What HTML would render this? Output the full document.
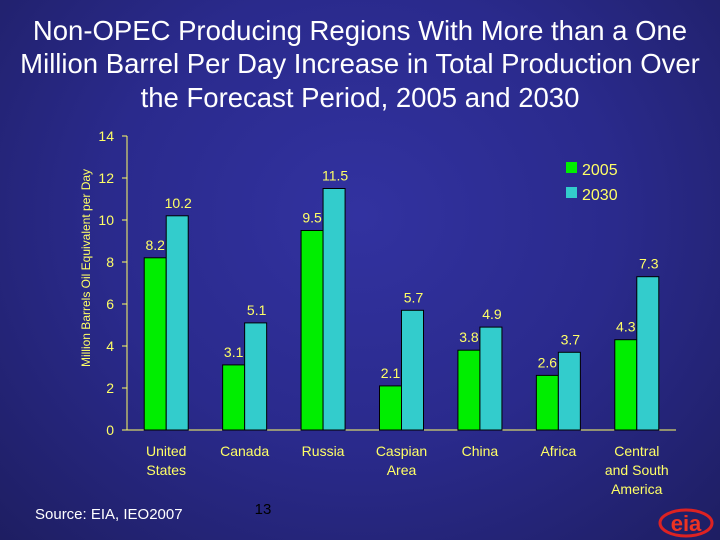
<!DOCTYPE html>
<html><head><meta charset="utf-8"><style>
body{margin:0;width:720px;height:540px;overflow:hidden;font-family:"Liberation Sans",sans-serif;}
#bg{position:absolute;left:0;top:0;width:720px;height:540px;background:radial-gradient(ellipse at 50% 40%,#3232a0 0%,#2a2a8c 50%,#1e1e62 100%);}
</style></head><body>
<div id="bg"></div>
<svg id="c" width="720" height="540" style="position:absolute;left:0;top:0">
<text x="360" y="40" fill="#fff" font-size="27.5" text-anchor="middle">Non-OPEC Producing Regions With More than a One</text>
<text x="360" y="73" fill="#fff" font-size="27.5" text-anchor="middle">Million Barrel Per Day Increase in Total Production Over</text>
<text x="360" y="107" fill="#fff" font-size="27.5" text-anchor="middle">the Forecast Period, 2005 and 2030</text>
<text transform="translate(90,268) rotate(-90)" fill="#ffff66" font-size="12" text-anchor="middle">Million Barrels Oil Equivalent per Day</text>
<g id="plot"></g>
<rect x="566" y="162" width="11" height="11" fill="#00ee00"/>
<text x="582" y="175" fill="#ffff66" font-size="16">2005</text>
<rect x="566" y="187" width="11" height="11" fill="#33cccc"/>
<text x="582" y="200" fill="#ffff66" font-size="16">2030</text>
<text x="35" y="519" fill="#fff" font-size="15">Source:  EIA, IEO2007</text>
<text x="263" y="514" fill="#000" font-size="15" text-anchor="middle">13</text>
<g>
<ellipse cx="686" cy="523" rx="26" ry="13" fill="none" stroke="#dd2222" stroke-width="3"/>
<text x="686" y="531" fill="#ee3322" font-size="22" font-weight="bold" text-anchor="middle">eia</text>
</g>
</svg>
<script>
const categories=[["United","States"],["Canada"],["Russia"],["Caspian","Area"],["China"],["Africa"],["Central","and South","America"]];
const values2005=[8.2,3.1,9.5,2.1,3.8,2.6,4.3];
const values2030=[10.2,5.1,11.5,5.7,4.9,3.7,7.3];
const yTicks=[0,2,4,6,8,10,12,14];
const NS="http://www.w3.org/2000/svg";
const g=document.getElementById('plot');
const x0=127,x1=676,yb=430,yt=136,ymax=14;
const y=v=>yb-(v/ymax)*(yb-yt);
const step=(x1-x0)/categories.length;
const cx=i=>x0+step*(i+0.5);
function mk(t,a){const e=document.createElementNS(NS,t);for(const k in a)e.setAttribute(k,a[k]);g.appendChild(e);return e;}
let ax=mk('line',{x1:x0,y1:yt,x2:x0,y2:yb,stroke:'#ffff66','stroke-width':1});


let bx=mk('line',{x1:x0,y1:yb,x2:x1,y2:yb,stroke:'#ffff66','stroke-width':1});


yTicks.forEach(t=>{
 mk('line',{x1:x0-5,y1:y(t),x2:x0,y2:y(t),stroke:'#ffff66'});
 const l=mk('text',{x:x0-13,y:y(t)+5,fill:'#ffff66','font-size':14,'text-anchor':'end'});l.textContent=t;
 
 
});
const bw=22;
categories.forEach((c,i)=>{
 const b1=mk('rect',{x:cx(i)-bw,y:y(values2005[i]),width:bw,height:yb-y(values2005[i]),fill:'#00ee00',stroke:'#000','stroke-width':1});
 
 
 const b2=mk('rect',{x:cx(i),y:y(values2030[i]),width:bw,height:yb-y(values2030[i]),fill:'#33cccc',stroke:'#000','stroke-width':1});
 
 
 const v1=mk('text',{x:cx(i)-bw/2,y:y(values2005[i])-8,fill:'#ffff66','font-size':14,'text-anchor':'middle'});v1.textContent=values2005[i].toFixed(1);
 
 
 const v2=mk('text',{x:cx(i)+bw/2+1,y:y(values2030[i])-8,fill:'#ffff66','font-size':14,'text-anchor':'middle'});v2.textContent=values2030[i].toFixed(1);
 
 
 c.forEach((ln,j)=>{const t=mk('text',{x:cx(i),y:456+j*19,fill:'#ffff66','font-size':14,'text-anchor':'middle'});t.textContent=ln;
 
 });
});
</script>
</body></html>
